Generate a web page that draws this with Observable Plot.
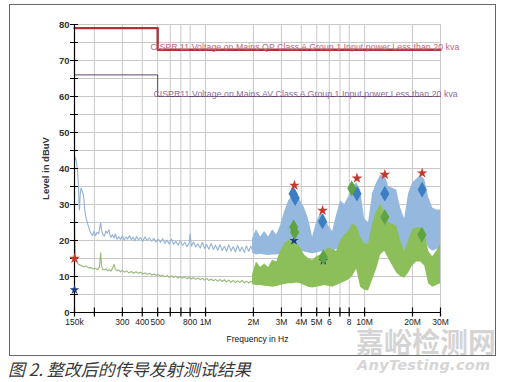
<!DOCTYPE html>
<html><head><meta charset="utf-8">
<script src="https://cdn.jsdelivr.net/npm/d3@7"></script>
<script src="https://cdn.jsdelivr.net/npm/@observablehq/plot@0.6"></script>
<style>
body{margin:0;background:#fff;width:508px;height:382px;overflow:hidden;position:relative;font-family:"Liberation Sans",Arial,sans-serif}
#chart{position:absolute;left:0;top:0}
#frame{position:absolute;left:9px;top:4px;width:485px;height:350px;border:1.5px solid #666;pointer-events:none}
#caption{position:absolute;left:8px;top:359px;font-family:"Noto Sans CJK SC",sans-serif;font-style:italic;font-size:17px;line-height:20px;color:#383838;white-space:nowrap}
#wm1{position:absolute;left:356px;top:330px;font-family:"Noto Sans CJK SC",sans-serif;font-weight:bold;font-size:28px;line-height:23px;color:#d4d4d4;white-space:nowrap}
#wm2{position:absolute;left:357px;top:357px;font-family:"DejaVu Sans",sans-serif;font-weight:bold;font-style:italic;font-size:14.5px;line-height:16px;color:#d6d6d6;white-space:nowrap;letter-spacing:0.3px}
</style></head>
<body>
<div id="wm1">嘉峪检测网</div>
<div id="wm2">AnyTesting.com</div>
<div id="chart"></div>
<div id="frame"></div>
<div id="caption">图 2. 整改后的传导发射测试结果</div>
<script>
// ---- axis ticks ----
const xTicks = [150e3,200e3,300e3,400e3,500e3,600e3,700e3,800e3,1e6,2e6,3e6,4e6,5e6,6e6,7e6,8e6,10e6,20e6,30e6];
const xTickLabels = ["150k","","300","400","500","","","800","1M","2M","3M","4M","5M","6","","8","10M","20M","30M"];
const yTicks = [0,5,10,15,20,25,30,35,40,45,50,55,60,65,70,75,80];
const xTitle = "Frequency in Hz";
const yTitle = "Level in dBuV";

// ---- limit lines (Hz, dBuV) ----
const qpLimitFreq = [150e3, 500e3, 30e6];
const qpLimitLevel = [79, 73, 73];
const avLimitFreq = [150e3, 500e3, 30e6];
const avLimitLevel = [66, 60, 60];
const limitLabelText = [
  "CISPR 11 Voltage on Mains QP Class A Group 1 Input power Less than 20 kva",
  "CISPR11 Voltage on Mains AV Class A Group 1 Input power Less than 20 kva"
];
const limitLabelFreq = [451e3, 470e3];
const limitLabelLevel = [73, 60];

// ---- low-frequency peak trace (kHz, dBuV) ----
const peakLowKHz = [150,152,154,156.6,158.9,160,161.2,163,165,168.4,171,173.4,176,178.5,183.8,187,189.2,194.8,199,203.6,208,212.9,216,219.2,222,225.6,231,236,241,246.7,251,254,260,265.5,271,277.6,285,292.3,300,307.8,316,324.1,333,341.2,350,359.3,368,378.3,390,403.2,416,429.8,444,458.1,473,488.3,504,520.5,537,554.8,573,591.4,610,630.4,650,671.9,694,716.2,740,763.4,790,800,814,840,867.4,895,924.6,955,985.5,1015,1050,1085,1120,1155,1194,1232,1272,1313,1356,1400,1446,1493,1541,1590,1643,1696,1751,1808,1866,1926,1975];
const peakLowLevel = [42.5,43,42,39.5,35,30,28.5,33,34.6,33.5,32.5,29,27,25.8,23.8,22.8,22.2,21.4,22.6,21.3,22.3,21.9,23.5,25,22.8,21.8,21.2,22.6,22.0,23.0,21.5,20.9,21.6,20.7,21.8,20.4,21.0,20.3,21.3,20.1,21.0,20.4,21.4,20.2,20.9,19.9,21.1,20.2,20.8,19.8,21.0,20.0,20.7,19.8,20.6,19.6,20.4,19.5,20.5,19.2,20.1,19.0,20.4,18.9,19.8,18.7,19.9,18.6,19.5,18.3,19.4,21.8,18.4,19.6,18.2,19.1,17.9,19.5,17.8,18.9,17.6,19.2,17.5,18.7,17.3,18.9,17.2,18.4,17.0,18.8,17.1,18.3,16.8,18.6,17.0,18.2,16.7,18.5,17.0,18.4,17.2];

// ---- low-frequency average trace (kHz, dBuV) ----
const avgLowKHz = [150,150.8,151.5,153,156,160,166,172,178,184,190,196,203,210,215,219.2,221.5,225,230,236,242,248,254,261,266,270,276,285,292,300,310,320,330,341,352,365,378,390,403,417,430,445,458,475,490,505,520,538,555,573,591,610,630,651,672,695,716,740,763,790,814,840,867,895,925,955,985,1017,1050,1085,1120,1155,1194,1232,1272,1313,1356,1400,1446,1493,1541,1590,1643,1696,1751,1808,1866,1926,1975];
const avgLowLevel = [24.5,20,16.5,14.8,13.8,13.3,13.0,12.7,12.9,12.4,12.5,12.1,12.3,11.9,12.6,16.6,13.4,12.0,11.8,12.1,11.6,11.9,11.5,12.4,13.4,12.2,11.6,11.8,11.3,11.7,11.2,11.5,11.0,11.4,10.9,11.3,10.9,11.2,10.7,11.0,10.6,10.9,10.4,10.7,10.3,10.6,10.1,10.4,9.9,10.3,9.8,10.2,9.7,10.1,9.6,10.0,9.5,9.9,9.4,9.8,9.3,9.7,9.2,9.6,9.1,9.5,9.0,9.4,8.9,9.3,8.8,9.2,8.7,9.2,8.6,9.1,8.5,9.0,8.4,8.9,8.3,8.8,8.3,8.9,8.2,8.7,8.2,8.6,8.4];

// ---- high-frequency envelopes (MHz, dBuV) ----
const bandMHz = [1.975,2.09,2.22,2.35,2.49,2.64,2.80,2.96,3.14,3.33,3.53,3.74,3.96,4.19,4.44,4.71,4.99,5.29,5.60,5.94,6.29,6.67,7.06,7.49,7.93,8.40,8.91,9.44,10.0,10.59,11.23,11.90,12.61,13.36,14.15,15.0,15.9,16.84,17.85,18.91,20.04,21.24,22.5,23.85,25.27,26.78,28.38,30];
const peakHi = [20.5,23,21,22.5,21,23,21.5,24,28,31,32.5,33.5,31,29,26,21,25,27.5,27,24,22.5,27,31,30,32,35,36,34,26,25,33,36,38,38.5,35,34.5,34,29,26,33,36,37,38,37,32,29,28.5,28.5];
const peakLo = [16.5,16,16.2,16,15.8,16,16,16.2,16.5,17,17,17,17,16.8,16.5,16.3,16.5,16.8,17,17,17,17.5,18,18,18.5,19,20,17,16.5,17,20,24,26,25,22,20,19,17.5,17,19,21,22,22,21,18,17,17.5,18];
const avgHi = [10.5,14,12.5,13.5,12.5,14.5,14,17,19,20,19.5,19,18,16,15,14.5,15.5,16,17,18,17.5,17,20,21.5,22.5,24.5,24,21,19,19,24.7,28,30,28,25,24.5,24,20,17,20,23,23.5,23.5,23,17,15.5,17,19];
const avgLo = [7.8,7.5,7.5,7.3,7.2,7,7.2,7.5,7.8,8,8,8.2,8,7.5,7,6.8,7,7.2,7.5,7.3,7,7.5,8,8.5,9,10,12,7,6.2,6,9,12,16,17,15,13,11,10,9.5,11,13,14,14,13,8,7,7.5,8];

// ---- final measurement markers (Hz, dBuV) ----
const qpStarFreq = [150e3, 3.62e6, 5.44e6, 8.95e6, 13.4e6, 23.0e6];
const qpStarLevel = [15, 35.3, 28.3, 37.3, 38.3, 38.7];
const pkDiamondFreq = [3.55e6, 3.66e6, 5.44e6, 8.95e6, 13.4e6, 23.0e6];
const pkDiamondLevel = [33, 31.8, 25.3, 33, 33, 34.1];
const avDiamondFreq = [3.58e6, 3.63e6, 5.5e6, 8.3e6, 13.4e6, 22.9e6];
const avDiamondLevel = [23.7, 22.3, 15.4, 34.5, 26.5, 21.6];
const avStarFreq = [150e3, 3.6e6, 5.5e6];
const avStarLevel = [6.3, 20, 14.4];

// ---- build tables ----
const zip = (fs, vs, k = 1) => fs.map((f, i) => ({f: f * k, v: vs[i]}));
const qpLimit = zip(qpLimitFreq, qpLimitLevel);
const avLimit = zip(avLimitFreq, avLimitLevel);
const limitLabels = limitLabelText.map((t, i) => ({t, f: limitLabelFreq[i], v: limitLabelLevel[i], c: i === 0 ? "#c0657a" : "#8e6a9a"}));
const peakLow = zip(peakLowKHz, peakLowLevel, 1e3);
const avgLow = zip(avgLowKHz, avgLowLevel, 1e3);
const band = bandMHz.map((m, i) => ({f: m * 1e6, pLo: peakLo[i], pHi: peakHi[i], aLo: avgLo[i], aHi: avgHi[i]}));
const qpStars = zip(qpStarFreq, qpStarLevel);
const pkDiamonds = zip(pkDiamondFreq, pkDiamondLevel);
const avDiamonds = zip(avDiamondFreq, avDiamondLevel);
const avStars = zip(avStarFreq, avStarLevel);
const xLabeled = xTicks.filter((d, i) => xTickLabels[i] !== "");
const xLab = new Map(xTicks.map((d, i) => [d, xTickLabels[i]]));
const tickHalf = 1.25; // tick half-length in dBuV (crossing the axis)

const chart = Plot.plot({
  width: 508, height: 356,
  marginLeft: 74, marginRight: 68, marginTop: 24, marginBottom: 44,
  style: {background: "transparent", fontFamily: "'Liberation Sans', Arial, sans-serif", overflow: "visible"},
  x: {type: "log", domain: [150e3, 30e6], axis: null},
  y: {domain: [0, 80]},
  marks: [
    Plot.gridX(xTicks, {stroke: "#c8c8c8", strokeOpacity: 1}),
    Plot.gridY(yTicks, {stroke: "#c8c8c8", strokeOpacity: 1}),
    Plot.line(qpLimit, {x: "f", y: "v", curve: "step-after", stroke: "#a8353a", strokeWidth: 2.4}),
    Plot.line(avLimit, {x: "f", y: "v", curve: "step-after", stroke: "#5e4866", strokeWidth: 1}),
    Plot.text(limitLabels, {x: "f", y: "v", text: "t", fill: "c", textAnchor: "start", lineAnchor: "bottom", dy: 0.5, fontSize: 8.7}),
    Plot.line(peakLow, {x: "f", y: "v", stroke: "#92b3d7", strokeWidth: 1.1}),
    Plot.areaY(band, {x: "f", y1: "pLo", y2: "pHi", fill: "#95b9de"}),
    Plot.line(avgLow, {x: "f", y: "v", stroke: "#98b87c", strokeWidth: 1.1}),
    Plot.areaY(band, {x: "f", y1: "aLo", y2: "aHi", fill: "#8cbf5a"}),
    Plot.ruleX([150e3], {stroke: "#000", strokeWidth: 1.2}),
    Plot.ruleY([0], {stroke: "#000", strokeWidth: 1.2}),
    Plot.ruleX(xTicks, {x: d => d, y1: -tickHalf, y2: tickHalf, stroke: "#000", strokeWidth: 1.2}),
    Plot.text(xLabeled, {x: d => d, text: d => xLab.get(d), frameAnchor: "bottom", lineAnchor: "top", dy: 6.5, fontSize: 8.5, fill: "#222"}),
    Plot.text([xTitle], {text: d => d, frameAnchor: "bottom", lineAnchor: "middle", dy: 27, fontSize: 8.5, fill: "#111"}),
    Plot.axisY(yTicks, {tickSize: 8, dx: 4, tickPadding: 1, tickFormat: d => d % 10 === 0 ? d : "", fontSize: 9.5, fontWeight: "bold", stroke: "#000", fill: "#333",
      label: yTitle, labelAnchor: "center", labelOffset: 32, labelArrow: "none"}),
    Plot.dot(avStars, {x: "f", y: "v", symbol: "star", r: 3, fill: "#1f3c7a"}),
    Plot.dot(pkDiamonds, {x: "f", y: "v", symbol: "diamond", r: 4.8, fill: "#3b7ec2"}),
    Plot.dot(avDiamonds, {x: "f", y: "v", symbol: "diamond", r: 4.8, fill: "#5fa345"}),
    Plot.dot(qpStars, {x: "f", y: "v", symbol: "star", r: 3.4, fill: "#c63a2e"})
  ]
});
d3.select(chart).selectAll("text")
  .filter(function() { return this.textContent.startsWith("CISPR"); })
  .style("letter-spacing", "0.08px");
document.getElementById("chart").appendChild(chart);
</script>
</body></html>
